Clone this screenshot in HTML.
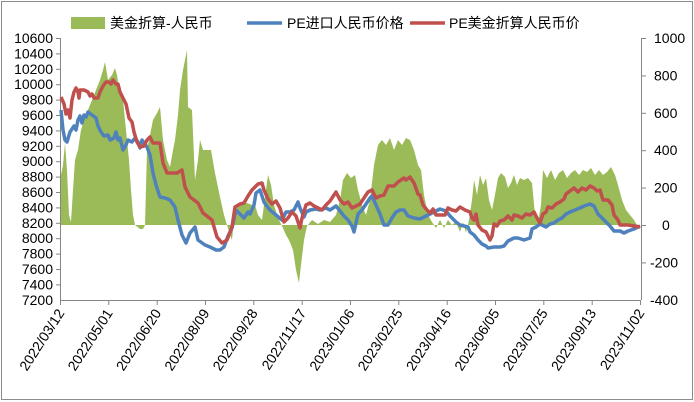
<!DOCTYPE html>
<html><head><meta charset="utf-8"><style>
body{margin:0;background:#fff}
svg{display:block;font-family:"Liberation Sans","Noto Sans CJK SC",sans-serif}
</style></head><body>
<svg width="694" height="402" viewBox="0 0 694 402">
<rect x="1.5" y="1.5" width="691" height="398" fill="#fff" stroke="#8c8c8c"/>
<!-- green area -->
<path fill="#9bbb59" d="M60,225 L61,175 63,165 65,143 67,170 69,215 71,222 73,190 75,160 78,150 81,130 84,120 88,110 92,100 96,90 100,80 103,70 105,62 108,80 112,75 115,68 117,75 120,95 123,100 126,130 129,160 131,190 133,215 135,225 140,229 143,229 145,225 147,150 150,135 153,120 157,113 160,107 163,140 167,160 170,167 173,150 175,140 178,115 180,90 183,70 185,60 187,50 188,107 192,110 195,180 198,160 200,140 203,150 207,150 211,150 215,173 220,197 224,215 227,225 230,235 232,240 235,210 240,205 247,203 252,205 255,205 258,215 262,220 266,190 268,175 271,185 274,205 278,218 282,226 286,235 289,240 293,250 296,270 299,283 301,265 304,240 307,226 312,220 318,224 324,220 330,222 336,215 340,200 343,180 347,173 351,178 355,175 358,190 362,205 366,215 370,200 374,165 378,145 382,140 386,145 390,138 394,150 398,140 402,145 406,138 410,140 414,150 418,165 421,170 424,195 428,215 432,222 436,228 440,220 444,228 448,220 452,225 456,222 460,232 463,222 466,233 469,220 472,200 474,180 477,195 480,175 483,185 486,178 489,200 492,210 495,195 498,178 501,173 505,177 508,188 511,183 514,175 517,185 520,178 524,180 528,178 532,183 535,215 538,222 541,205 543,170 547,178 551,170 555,180 559,173 563,170 567,178 571,173 575,170 579,175 583,170 587,172 591,168 595,175 599,170 603,175 607,172 611,167 615,175 618,185 622,200 626,210 630,215 634,220 637,225 640,225 Z"/>
<!-- axes -->
<g stroke="#868686" stroke-width="1" fill="none">
<line x1="60.5" y1="38" x2="60.5" y2="300"/>
<line x1="641.5" y1="38" x2="641.5" y2="300"/>
<line x1="60" y1="300.5" x2="641" y2="300.5"/>
</g>
<g stroke="#868686">
<line x1="56" y1="38.5" x2="60" y2="38.5"/><line x1="56" y1="53.9" x2="60" y2="53.9"/><line x1="56" y1="69.3" x2="60" y2="69.3"/><line x1="56" y1="84.7" x2="60" y2="84.7"/><line x1="56" y1="100.1" x2="60" y2="100.1"/><line x1="56" y1="115.5" x2="60" y2="115.5"/><line x1="56" y1="130.9" x2="60" y2="130.9"/><line x1="56" y1="146.3" x2="60" y2="146.3"/><line x1="56" y1="161.7" x2="60" y2="161.7"/><line x1="56" y1="177.1" x2="60" y2="177.1"/><line x1="56" y1="192.5" x2="60" y2="192.5"/><line x1="56" y1="207.9" x2="60" y2="207.9"/><line x1="56" y1="223.3" x2="60" y2="223.3"/><line x1="56" y1="238.7" x2="60" y2="238.7"/><line x1="56" y1="254.1" x2="60" y2="254.1"/><line x1="56" y1="269.5" x2="60" y2="269.5"/><line x1="56" y1="284.9" x2="60" y2="284.9"/>
<line x1="641" y1="38.5" x2="646" y2="38.5"/><line x1="641" y1="75.9" x2="646" y2="75.9"/><line x1="641" y1="113.3" x2="646" y2="113.3"/><line x1="641" y1="150.7" x2="646" y2="150.7"/><line x1="641" y1="188.1" x2="646" y2="188.1"/><line x1="641" y1="225.5" x2="646" y2="225.5"/><line x1="641" y1="262.9" x2="646" y2="262.9"/>
<line x1="60.5" y1="300" x2="60.5" y2="305"/><line x1="108.8" y1="300" x2="108.8" y2="305"/><line x1="157.2" y1="300" x2="157.2" y2="305"/><line x1="205.5" y1="300" x2="205.5" y2="305"/><line x1="253.8" y1="300" x2="253.8" y2="305"/><line x1="302.2" y1="300" x2="302.2" y2="305"/><line x1="350.5" y1="300" x2="350.5" y2="305"/><line x1="398.8" y1="300" x2="398.8" y2="305"/><line x1="447.2" y1="300" x2="447.2" y2="305"/><line x1="495.5" y1="300" x2="495.5" y2="305"/><line x1="543.8" y1="300" x2="543.8" y2="305"/><line x1="592.2" y1="300" x2="592.2" y2="305"/><line x1="640.5" y1="300" x2="640.5" y2="305"/>
</g>
<!-- blue -->
<polyline fill="none" stroke="#4f81bd" stroke-width="3.5" stroke-linejoin="round" points="61,110 63,130 65,140 67,142 70,132 74,126 76,130 78,120 80,116 82,123 84,115 86,117 88,112 92,115 96,118 98,126 101,132 104,136 108,135 110,140 114,138 116,132 118,140 120,138 123,150 126,145 128,140 132,142 135,138 138,142 140,148 142,140 145,144 147,147 150,155 153,173 156,185 160,197 165,198 170,200 175,207 178,220 182,235 186,243 190,233 195,227 198,240 205,245 210,247 216,250 220,250 224,247 228,236 232,228 236,210 240,214 244,218 248,212 250,214 254,205 256,193 260,190 262,196 264,202 266,205 270,210 276,215 282,220 286,212 290,212 294,210 298,202 300,208 304,217 306,212 310,210 316,209 320,210 326,208 330,210 336,206 340,211 344,216 348,220 352,226 354,232 358,214 362,210 366,204 370,198 372,196 376,205 380,214 384,225 388,225 392,218 396,212 400,210 404,210 408,216 414,218 420,219 426,216 430,214 436,211 440,209 446,211 450,216 456,222 460,225 464,226 468,227 470,232 474,235 478,240 482,244 486,246 488,248 494,247 500,247 504,246 508,241 514,238 518,238 524,240 530,238 532,229 536,227 540,224 546,227 550,224 554,223 558,220 562,218 566,214 570,212 575,210 580,208 584,206 590,204 594,206 598,214 602,218 606,222 610,226 614,231 620,231 624,233 628,231 634,229 640,226"/>
<!-- red -->
<polyline fill="none" stroke="#c0504d" stroke-width="3.5" stroke-linejoin="round" points="61,97 64,104 66,114 68,110 70,118 72,100 74,92 76,88 78,92 79,98 80,90 84,90 88,92 90,96 92,94 94,98 98,98 100,92 103,86 106,82 109,82 111,84 113,80 116,84 118,84 120,92 123,98 126,104 129,118 132,122 134,132 137,142 140,147 144,146 147,140 150,137 153,143 160,143 163,163 167,173 177,173 182,170 185,187 190,197 198,203 203,213 212,220 217,237 222,243 227,240 232,227 235,207 240,204 244,203 248,196 252,190 256,186 258,184 262,183 264,190 268,199 272,204 276,201 280,208 284,222 288,218 292,212 296,216 300,228 302,218 306,205 310,203 314,206 318,208 322,210 326,205 330,201 334,195 336,192 340,200 344,204 348,202 352,208 356,206 360,204 364,198 368,192 372,190 376,198 380,196 384,195 388,186 394,186 398,182 404,178 406,180 410,177 414,183 418,194 420,195 423,205 427,210 430,213 433,209 436,215 445,215 448,208 452,210 456,211 460,207 465,210 470,212 472,218 474,220 476,214 478,225 482,230 486,232 488,236 490,240 492,236 494,224 497,226 500,221 504,220 508,216 512,220 514,215 518,216 522,218 526,214 530,215 534,212 537,218 540,223 543,214 546,212 548,207 552,208 556,204 560,202 564,199 566,194 570,191 574,188 578,192 582,188 586,190 590,186 594,188 597,191 600,190 603,200 608,200 612,205 614,215 618,220 620,225 628,225 640,227"/>
<!-- left labels -->
<g font-size="14" fill="#000" text-anchor="end">
<text x="53" y="43">10600</text><text x="53" y="58.4">10400</text><text x="53" y="73.8">10200</text><text x="53" y="89.2">10000</text><text x="53" y="104.6">9800</text><text x="53" y="120">9600</text><text x="53" y="135.4">9400</text><text x="53" y="150.8">9200</text><text x="53" y="166.2">9000</text><text x="53" y="181.6">8800</text><text x="53" y="197">8600</text><text x="53" y="212.4">8400</text><text x="53" y="227.8">8200</text><text x="53" y="243.2">8000</text><text x="53" y="258.6">7800</text><text x="53" y="274">7600</text><text x="53" y="289.4">7400</text><text x="53" y="304.8">7200</text>
</g>
<g font-size="14" fill="#000" text-anchor="start">
<text x="654" y="43">1000</text><text x="654" y="80.4">800</text><text x="654" y="117.8">600</text><text x="654" y="155.2">400</text><text x="654" y="192.6">200</text><text x="662" y="230">0</text><text x="650" y="267.4">-200</text><text x="650" y="304.8">-400</text>
</g>
<g font-size="14" fill="#000" text-anchor="end">
<text transform="translate(65,313) rotate(-57)">2022/03/12</text>
<text transform="translate(113.3,313) rotate(-57)">2022/05/01</text>
<text transform="translate(161.7,313) rotate(-57)">2022/06/20</text>
<text transform="translate(210,313) rotate(-57)">2022/08/09</text>
<text transform="translate(258.3,313) rotate(-57)">2022/09/28</text>
<text transform="translate(306.7,313) rotate(-57)">2022/11/17</text>
<text transform="translate(355,313) rotate(-57)">2023/01/06</text>
<text transform="translate(403.3,313) rotate(-57)">2023/02/25</text>
<text transform="translate(451.7,313) rotate(-57)">2023/04/16</text>
<text transform="translate(500,313) rotate(-57)">2023/06/05</text>
<text transform="translate(548.3,313) rotate(-57)">2023/07/25</text>
<text transform="translate(596.7,313) rotate(-57)">2023/09/13</text>
<text transform="translate(645,313) rotate(-57)">2023/11/02</text>
</g>
<!-- legend -->
<rect x="71" y="17" width="34" height="12" fill="#9bbb59"/>
<text x="110" y="28" font-size="14">美金折算-人民币</text>
<line x1="247" y1="23" x2="282" y2="23" stroke="#4f81bd" stroke-width="3.5"/>
<text x="287" y="28" font-size="14">PE进口人民币价格</text>
<line x1="410" y1="23" x2="445" y2="23" stroke="#c0504d" stroke-width="3.5"/>
<text x="449" y="28" font-size="14">PE美金折算人民币价</text>
</svg>
</body></html>
